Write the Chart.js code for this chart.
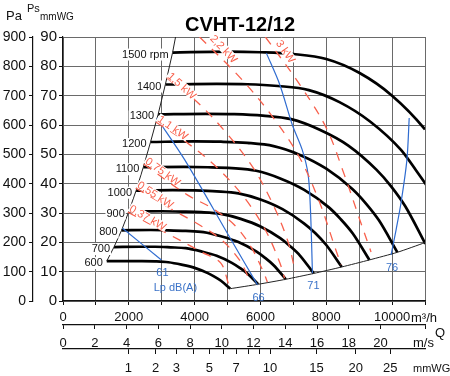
<!DOCTYPE html>
<html>
<head>
<meta charset="utf-8">
<script src="https://cdn.jsdelivr.net/npm/chart.js@4.4.1/dist/chart.umd.min.js"></script>
<style>
  html, body { margin: 0; padding: 0; background: #fff; }
</style>
</head>
<body>
<canvas id="fan" width="450" height="376"></canvas>
<script>
// fan speed curves: Q in m3/h, Ps in mmWG
var rpmText = ["600", "700", "800", "900", "1000", "1100", "1200", "1300", "1400", "1500 rpm"];
var q600 = [1330, 2000, 2400, 2800, 3200, 3600, 4000, 4400, 4600, 4800, 5080];
var p600 = [13.6, 13.6, 13.6, 13.5, 13.2, 12.4, 11.3, 9.5, 8.3, 6.9, 4.2];
var q700 = [1550, 2330, 2800, 3270, 3730, 4200, 4670, 5130, 5370, 5600, 5930];
var p700 = [18.4, 18.5, 18.5, 18.3, 18.0, 16.9, 15.4, 13.0, 11.3, 9.4, 5.7];
var q800 = [1780, 2670, 3200, 3730, 4270, 4800, 5330, 5870, 6130, 6400, 6770];
var p800 = [24.1, 24.2, 24.1, 23.9, 23.5, 22.1, 20.1, 16.9, 14.8, 12.2, 7.4];
var q900 = [2000, 3000, 3600, 4200, 4800, 5400, 6000, 6600, 6900, 7200, 7620];
var p900 = [30.5, 30.6, 30.5, 30.3, 29.7, 28.0, 25.4, 21.4, 18.7, 15.5, 9.4];
var q1000 = [2220, 3330, 4000, 4670, 5330, 6000, 6670, 7330, 7670, 8000, 8470];
var p1000 = [37.6, 37.8, 37.7, 37.4, 36.7, 34.6, 31.3, 26.4, 23.1, 19.1, 11.6];
var q1100 = [2440, 3670, 4400, 5130, 5870, 6600, 7330, 8070, 8430, 8800, 9310];
var p1100 = [45.6, 45.7, 45.6, 45.3, 44.4, 41.8, 37.9, 32.0, 28.0, 23.1, 14.0];
var q1200 = [2660, 4000, 4800, 5600, 6400, 7200, 8000, 8800, 9200, 9600, 10160];
var p1200 = [54.2, 54.4, 54.3, 53.9, 52.8, 49.8, 45.1, 38.1, 33.3, 27.5, 16.6];
var q1300 = [2890, 4330, 5200, 6070, 6930, 7800, 8670, 9530, 9970, 10400, 11010];
var p1300 = [63.6, 63.8, 63.7, 63.2, 62.0, 58.4, 53.0, 44.7, 39.1, 32.3, 19.5];
var q1400 = [3110, 4670, 5600, 6530, 7470, 8400, 9330, 10270, 10730, 11200];
var p1400 = [73.8, 74.0, 73.9, 73.3, 71.9, 67.8, 61.2, 51.5, 44.5, 37.0];
var q1500 = [3330, 5000, 6000, 7000, 8000, 9000, 10000, 11000, 11500];
var p1500 = [84.7, 85.0, 84.8, 84.2, 82.5, 77.8, 70.0, 58.5, 50.5];

// limits of the working range
var stallQ = [1330, 1550, 1780, 2000, 2220, 2440, 2660, 2890, 3110, 3330, 3420];
var stallPs = [13.6, 18.4, 24.1, 30.5, 37.6, 45.6, 54.2, 63.6, 73.8, 84.7, 90];
var endQ = [5080, 5930, 6770, 7620, 8470, 9310, 10160, 11000];
var endPs = [4.2, 5.7, 7.4, 9.4, 11.6, 14.0, 16.6, 19.9];

// sound pressure lines Lp dB(A)
var lpText = ["61", "66", "71", "76"];
var q61 = [1810, 2990];
var p61 = [24.8, 14.0];
var q66 = [2850, 3700, 5060, 5910];
var p66 = [62.4, 48.1, 21.8, 5.5];
var q71 = [6180, 6580, 6970, 7270, 7450, 7520, 7580];
var p71 = [84.5, 74.0, 60.0, 51.5, 43.0, 31.0, 9.5];
var q76 = [10520, 10450, 10270, 10120, 9970];
var p76 = [62.4, 48.1, 33.4, 24.2, 15.7];

// absorbed power lines kW
var kwText = ["0,37 kW", "0,55 kW", "0,75 kW", "1,1 kW", "1,5 kW", "2,2 kW", "3 kW"];
var kwLabelQ = [1970, 2210, 2450, 2820, 3120, 4420, 6420];
var kwLabelPs = [30.3, 38.5, 46.7, 61.0, 76.0, 89.0, 87.6];
var kwAngle = [30, 33, 36, 35, 42, 47, 55];
var q037 = [1970, 3090, 4210, 4790, 5030];
var p037 = [30.3, 23.5, 16.7, 13.0, 5.8];
var q055 = [2210, 3390, 4150, 4820, 5360, 5670];
var p055 = [38.5, 30.7, 25.9, 20.8, 14.0, 7.2];
var q075 = [2450, 3790, 4520, 5210, 5730, 6090, 6210];
var p075 = [46.7, 36.1, 31.7, 25.9, 18.1, 9.9, 6.5];
var q110 = [2820, 3790, 4700, 5520, 6150, 6580, 6730];
var p110 = [61.0, 53.8, 45.3, 35.1, 24.2, 13.3, 7.8];
var q150 = [3150, 4000, 4910, 5760, 6360, 6820, 7060];
var p150 = [76.0, 68.6, 58.0, 45.7, 33.4, 20.8, 9.9];
var q220 = [4150, 5360, 6330, 7180, 7790, 8270, 8450];
var p220 = [90, 76.4, 63.4, 49.1, 33.8, 18.1, 12.3];
var q300 = [6150, 7180, 8000, 8550, 9000, 9360];
var p300 = [90, 74.0, 59.0, 43.0, 28.3, 16.7];

// axis ticks
var msMax = 22.8;                      // m/s at Q = 11000 m3/h
var mmwgTicks = [1, 2, 3, 4, 5, 6, 7, 8, 9, 10, 15, 20, 25];
var mmwgShown = [1, 2, 3, 5, 7, 10, 15, 20, 25];

var red = "#f8604c";
var blue = "#2f6cd0";
var font = '"Liberation Sans", Arial, sans-serif';

function pts(qs, ps) {
  var out = [];
  for (var i = 0; i < qs.length; i++) out.push({ x: qs[i], y: ps[i] });
  return out;
}

var speedQ = [q600, q700, q800, q900, q1000, q1100, q1200, q1300, q1400, q1500];
var speedPs = [p600, p700, p800, p900, p1000, p1100, p1200, p1300, p1400, p1500];
var lpQ = [q61, q66, q71, q76];
var lpPs = [p61, p66, p71, p76];
var kwQ = [q037, q055, q075, q110, q150, q220, q300];
var kwPs = [p037, p055, p075, p110, p150, p220, p300];

var datasets = [];
for (var k = 0; k < kwQ.length; k++) {
  datasets.push({ data: pts(kwQ[k], kwPs[k]), borderColor: red, borderWidth: 1.3, borderDash: [9, 8], tension: 0.35 });
}
for (var b = 0; b < lpQ.length; b++) {
  datasets.push({ data: pts(lpQ[b], lpPs[b]), borderColor: blue, borderWidth: 1.2, tension: 0.3 });
}
datasets.push({ data: pts(stallQ, stallPs), borderColor: "#222", borderWidth: 1, tension: 0 });
datasets.push({ data: pts(endQ, endPs), borderColor: "#222", borderWidth: 1, tension: 0.2 });
for (var s = 0; s < speedQ.length; s++) {
  datasets.push({ data: pts(speedQ[s], speedPs[s]), borderColor: "#000", borderWidth: 2.7, cubicInterpolationMode: "monotone" });
}

var annot = {
  id: "annot",
  afterDatasetsDraw: function (chart) {
    var c = chart.ctx, sx = chart.scales.x, sy = chart.scales.y;
    var i, px, py, w;
    c.save();

    // kW labels sitting on their dashed lines
    c.font = "11px " + font;
    for (i = 0; i < kwText.length; i++) {
      px = sx.getPixelForValue(kwLabelQ[i]);
      py = sy.getPixelForValue(kwLabelPs[i]);
      w = c.measureText(kwText[i]).width;
      c.save();
      c.translate(px, py);
      c.rotate(kwAngle[i] * Math.PI / 180);
      c.fillStyle = "#fff";
      c.fillRect(-1, -10, w + 2, 9);
      c.fillStyle = red;
      c.textBaseline = "alphabetic";
      c.fillText(kwText[i], 0, -1.5);
      c.restore();
    }

    // rpm labels at the start of each curve
    c.textBaseline = "middle";
    for (i = 0; i < rpmText.length; i++) {
      px = sx.getPixelForValue(speedQ[i][0]) - 4;
      py = sy.getPixelForValue(speedPs[i][0]) + 2;
      w = c.measureText(rpmText[i]).width;
      c.fillStyle = "#fff";
      c.fillRect(px - w - 1, py - 6, w + 2, 12);
      c.fillStyle = "#111";
      c.textAlign = "right";
      c.fillText(rpmText[i], px, py);
    }

    // sound labels under the line ends
    c.textAlign = "center";
    c.fillStyle = "#3a72c8";
    for (i = 0; i < lpText.length; i++) {
      var n = lpQ[i].length - 1;
      px = sx.getPixelForValue(lpQ[i][n]);
      py = sy.getPixelForValue(lpPs[i][n]) + 13;
      c.fillText(lpText[i], px + 1, py);
      if (i === 0) c.fillText("Lp dB(A)", px + 14, py + 15);
    }

    // title and unit captions
    c.fillStyle = "#000";
    c.font = "bold 20px " + font;
    c.textBaseline = "alphabetic";
    c.fillText("CVHT-12/12", 240, 31);
    c.textAlign = "left";
    c.fillStyle = "#111";
    c.font = "13px " + font;
    c.fillText("Pa", 6, 20);
    c.font = "11px " + font;
    c.fillText("Ps", 27, 12);
    c.font = "10px " + font;
    c.fillText("mmWG", 40, 20);
    c.font = "13px " + font;
    c.fillText("m\u00b3/h", 411, 322);
    c.fillText("Q", 435, 337);
    c.fillText("m/s", 413, 347);
    c.font = "11px " + font;
    c.fillText("mmWG", 413, 372);
    c.restore();
  }
};

new Chart(document.getElementById("fan"), {
  type: "scatter",
  data: { datasets: datasets },
  options: {
    responsive: false,
    animation: false,
    showLine: true,
    elements: { point: { radius: 0, hoverRadius: 0 } },
    layout: { padding: { top: 37, right: 25, left: 0, bottom: 0 } },
    plugins: { legend: { display: false }, tooltip: { enabled: false }, title: { display: false } },
    scales: {
      x: {
        position: "bottom", min: 0, max: 11000,
        ticks: {
          stepSize: 1000, autoSkip: false, maxRotation: 0, padding: 5, color: "#111",
          font: { size: 13, family: font },
          callback: function (v) { return (v % 2000 === 0 && v <= 10000) ? v : ""; }
        },
        grid: { color: "#6a6a6a", lineWidth: 1, tickLength: 4, tickColor: "#111" },
        border: { color: "#111", width: 1.2 },
        afterFit: function (s) { s.height = 24; }
      },
      xms: {
        position: "bottom", min: 0, max: msMax,
        ticks: {
          stepSize: 2, autoSkip: false, maxRotation: 0, padding: 7, color: "#111",
          font: { size: 13, family: font },
          callback: function (v) { return v <= 20 ? v : ""; }
        },
        grid: { drawOnChartArea: false, tickLength: 4, tickColor: "#111" },
        border: { color: "#111", width: 1.2 },
        afterFit: function (s) { s.height = 24; }
      },
      xmm: {
        position: "bottom", min: 0, max: msMax,
        afterBuildTicks: function (s) {
          s.ticks = mmwgTicks.map(function (p) { return { value: Math.sqrt(17 * p) }; });
        },
        ticks: {
          autoSkip: false, maxRotation: 0, padding: 7, color: "#111",
          font: { size: 13, family: font },
          callback: function (v, i) {
            return mmwgShown.indexOf(mmwgTicks[i]) >= 0 ? String(mmwgTicks[i]) : "";
          }
        },
        grid: { drawOnChartArea: false, tickLength: 5, tickColor: "#111" },
        border: { color: "#111", width: 1.2 },
        afterFit: function (s) { s.height = 27; }
      },
      y: {
        position: "left", min: 0, max: 90, weight: 0,
        ticks: { stepSize: 10, padding: 2, color: "#111", font: { size: 15, family: font } },
        grid: { color: "#6a6a6a", lineWidth: 1, tickLength: 4, tickColor: "#111" },
        border: { color: "#111", width: 1.2 },
        afterFit: function (s) { s.width = 30; }
      },
      yPa: {
        position: "left", min: 0, max: 900, weight: 1,
        ticks: { stepSize: 100, padding: 3, color: "#111", font: { size: 14, family: font } },
        grid: { drawOnChartArea: false, tickLength: 4, tickColor: "#111" },
        border: { color: "#111", width: 1.2 },
        afterFit: function (s) { s.width = 33; }
      }
    }
  },
  plugins: [annot]
});
</script>
</body>
</html>
